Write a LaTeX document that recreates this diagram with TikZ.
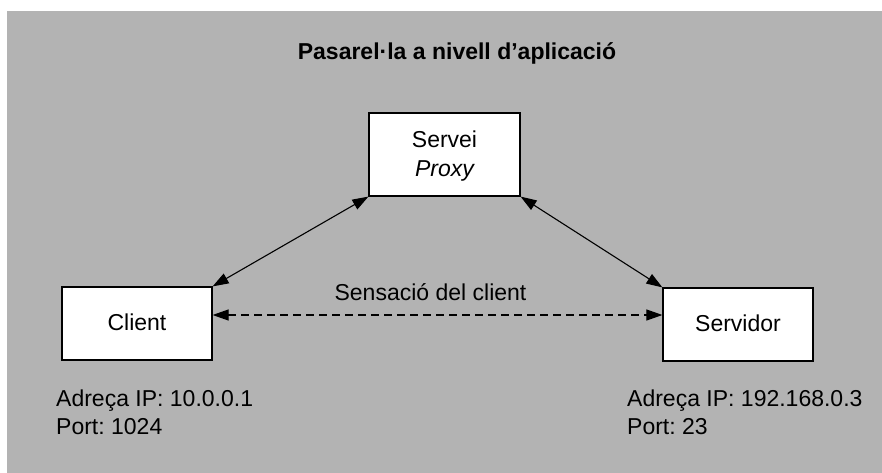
\documentclass[tikz,border=0pt]{standalone}
\usepackage{fontspec}
\setmainfont{Liberation Sans}
\usetikzlibrary{arrows.meta}
\frenchspacing
\definecolor{bggray}{RGB}{179,179,179}
\tikzset{
  box/.style={draw=black, line width=1.2pt, fill=white, inner sep=0pt},
  txt/.style={font=\fontsize{23}{28}\selectfont\frenchspacing, inner sep=0pt, anchor=base},
  ltxt/.style={font=\fontsize{23}{28}\selectfont\frenchspacing, inner sep=0pt, anchor=base west},
  conn/.style={line width=1.1pt, {Triangle[length=16pt,width=11pt]}-{Triangle[length=16pt,width=11pt]}}
}
\begin{document}
\begin{tikzpicture}[x=1pt,y=-1pt]
\useasboundingbox (0,0) rectangle (882,473);
\fill[bggray] (7,11) rectangle (882,473);
\node[txt, font=\fontsize{23}{28}\selectfont\bfseries] (title) at (457,60) {Pasarel·la a nivell d’aplicació};
\node[box, minimum width=151pt, minimum height=83pt] (proxy) at (444.5,154.5) {};
\node[txt] (proxy1) at (444.5,147.7) {Servei};
\node[txt] (proxy2) at (444.5,176.7) {\itshape Proxy};
\node[box, minimum width=150pt, minimum height=73pt] (client) at (137,323.5) {};
\node[txt] (clienttxt) at (137,330) {Client};
\node[box, minimum width=150pt, minimum height=73pt] (server) at (738,324.5) {};
\node[txt] (servertxt) at (738,331) {Servidor};
\node[txt] (sens) at (430.5,300.7) {Sensació del client};
\node[ltxt] (cip) at (56,406) {Adreça IP: 10.0.0.1};
\node[ltxt] (cport) at (56,434) {Port: 1024};
\node[ltxt] (sip) at (627,406) {Adreça IP: 192.168.0.3};
\node[ltxt] (sport) at (627,434) {Port: 23};
\draw[conn] (proxy.south west) -- (client.north east);
\draw[conn] (proxy.south east) -- (server.north west);
\coordinate (d1) at ([yshift=8.5pt]client.east);
\draw[conn, dash pattern=on 8pt off 5pt] (d1) -- (d1 -| server.west);
\end{tikzpicture}
\end{document}
